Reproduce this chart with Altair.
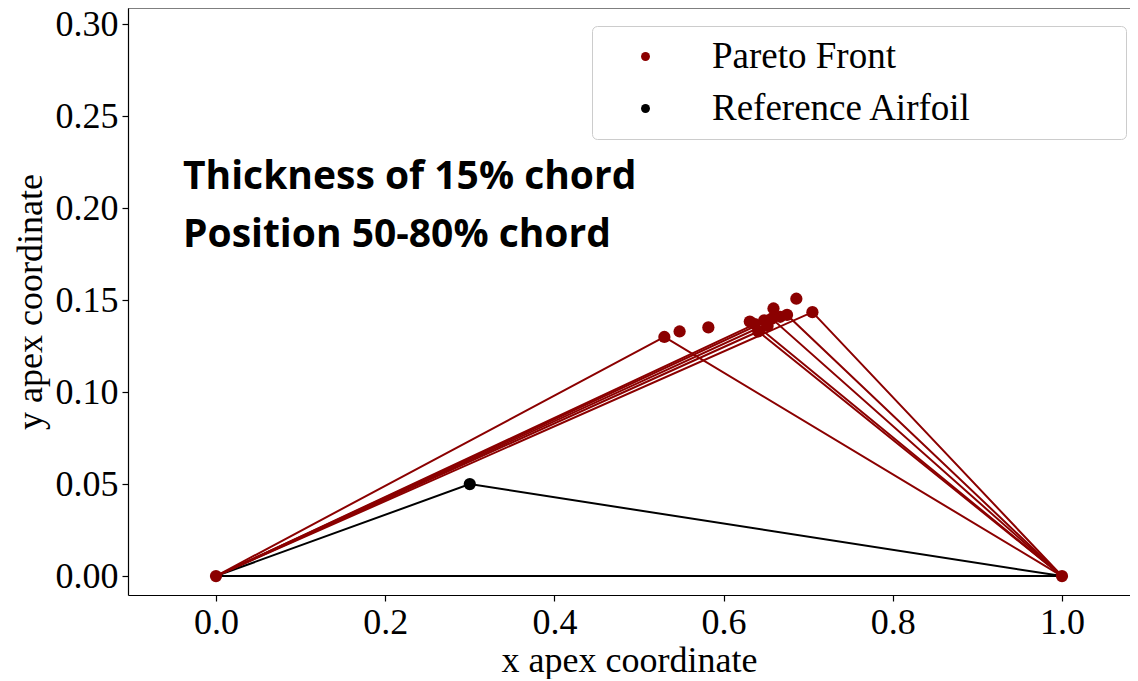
import altair as alt
import pandas as pd

# Pareto front apex points (x, y)
pareto_x = [0.530, 0.548, 0.582, 0.631, 0.637, 0.641, 0.648, 0.652, 0.657, 0.659, 0.667, 0.675, 0.686, 0.705]
pareto_y = [0.1300, 0.1330, 0.1352, 0.1384, 0.1370, 0.1330, 0.1390, 0.1360, 0.1400, 0.1455, 0.1410, 0.1420, 0.1508, 0.1435]
# which pareto designs have their outline drawn
with_line = [True, False, False, False, True, True, False, False, True, False, False, True, False, True]

ref_x = [0.0, 0.3, 1.0, 0.0]
ref_y = [0.0, 0.05, 0.0, 0.0]

chord_x = [0.0, 1.0]
chord_y = [0.0, 0.0]

x_ticks = [0.0, 0.2, 0.4, 0.6, 0.8, 1.0]
y_ticks = [0.00, 0.05, 0.10, 0.15, 0.20, 0.25, 0.30]

text_lines = ["Thickness of 15% chord", "Position 50-80% chord"]
text_x = [-0.039, -0.039]
text_y = [0.2107, 0.1791]

DARKRED = "#8b0000"
SERIF = "Liberation Serif"

# outline lines of pareto designs
rows = []
for i, (px, py, wl) in enumerate(zip(pareto_x, pareto_y, with_line)):
    if not wl:
        continue
    pts = [(chord_x[0], chord_y[0]), (px, py), (chord_x[1], chord_y[1])]
    for k, (a, b) in enumerate(pts):
        rows.append({"x": a, "y": b, "design": i, "order": k})
lines_df = pd.DataFrame(rows)

ref_df = pd.DataFrame({"x": ref_x, "y": ref_y, "order": list(range(len(ref_x)))})

pts_rows = [{"x": ref_x[1], "y": ref_y[1], "series": "Reference Airfoil"}]
for a, b in zip(chord_x, chord_y):
    pts_rows.append({"x": a, "y": b, "series": "Pareto Front"})
for a, b in zip(pareto_x, pareto_y):
    pts_rows.append({"x": a, "y": b, "series": "Pareto Front"})
pts_df = pd.DataFrame(pts_rows)

text_df = pd.DataFrame({"x": text_x, "y": text_y, "t": text_lines})

W, H = 1002, 587

xscale = alt.Scale(domain=[-0.104, 1.0804], nice=False, zero=False)
yscale = alt.Scale(domain=[-0.0103, 0.3089], nice=False, zero=False)

xenc = alt.X("x:Q", scale=xscale,
             axis=alt.Axis(title="x apex coordinate", values=x_ticks, format=".1f", grid=False))
yenc = alt.Y("y:Q", scale=yscale,
             axis=alt.Axis(title="y apex coordinate", values=y_ticks, format=".2f", grid=False))

ref_lines = alt.Chart(ref_df).mark_line(color="black", strokeWidth=2).encode(
    x=xenc, y=yenc, order="order:Q"
)

par_lines = alt.Chart(lines_df).mark_line(color=DARKRED, strokeWidth=2).encode(
    x="x:Q", y="y:Q", detail="design:N", order="order:Q"
)

points = alt.Chart(pts_df).mark_circle(size=150, opacity=1).encode(
    x="x:Q",
    y="y:Q",
    color=alt.Color(
        "series:N",
        scale=alt.Scale(domain=["Pareto Front", "Reference Airfoil"], range=[DARKRED, "black"]),
        legend=alt.Legend(
            title="MMMM",
            titleOrient="right",
            titleFontSize=37,
            titleFont=SERIF,
            titleOpacity=0,
            titlePadding=2,
            orient="none",
            legendX=464,
            legendY=18,
            labelFont=SERIF,
            labelFontSize=37,
            labelColor="black",
            labelLimit=600,
            symbolType="circle",
            symbolSize=80,
            symbolOffset=23,
            labelOffset=48,
            rowPadding=14,
            padding=12,
            strokeColor="#cccccc",
            fillColor="white",
            cornerRadius=5,
        ),
    ),
)

texts = alt.Chart(text_df).mark_text(
    align="left", baseline="alphabetic", font="Open Sans", fontWeight="bold", fontSize=39, color="black"
).encode(x="x:Q", y="y:Q", text="t:N")

top_border = alt.Chart(pd.DataFrame({"k": [0]})).mark_rule(color="black", strokeWidth=1.2).encode(
    x=alt.value(0), x2=alt.value(W), y=alt.value(0)
)

chart = (
    alt.layer(ref_lines, par_lines, points, texts, top_border)
    .properties(
        width=W,
        height=H,
        autosize=alt.AutoSizeParams(type="none"),
        padding={"left": 120, "top": 0, "right": 0, "bottom": 84},
    )
    .configure_view(stroke=None)
    .configure_axis(
        labelFont=SERIF,
        labelFontSize=36,
        labelColor="black",
        titleFont=SERIF,
        titleFontSize=36,
        titleFontWeight="normal",
        titleColor="black",
        domainColor="black",
        domainWidth=1.2,
        tickColor="black",
        tickSize=6,
        tickWidth=1.2,
        labelPadding=4,
    )
    .configure_axisY(titlePadding=6)
    .configure_axisX(titlePadding=3)
)

chart.save("out.html", embed_options={"renderer": "svg", "actions": False})
